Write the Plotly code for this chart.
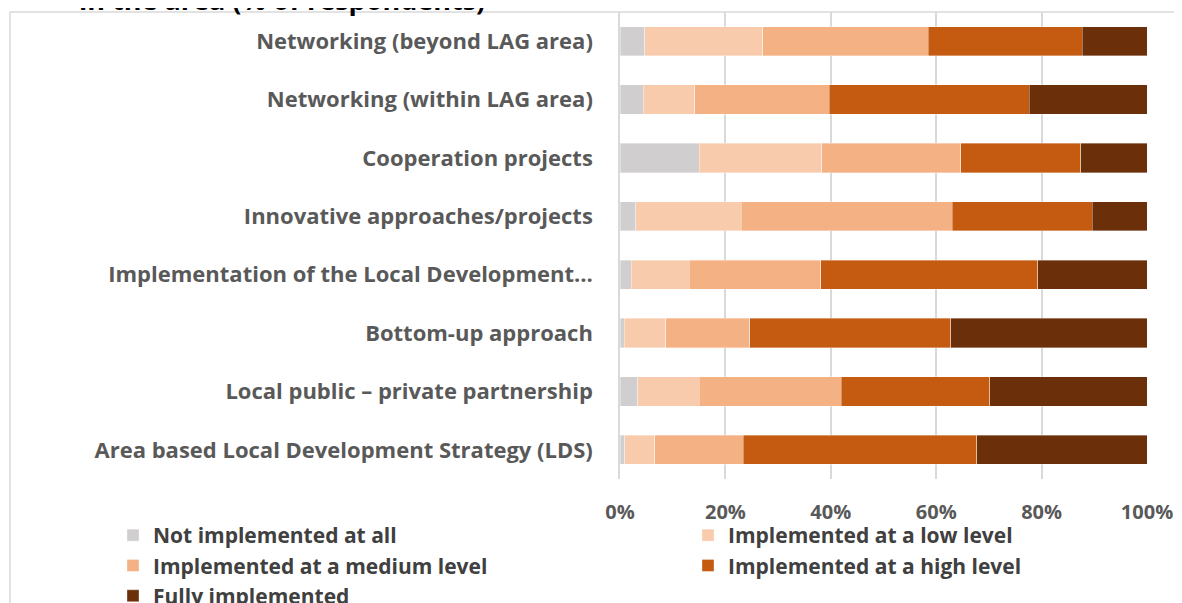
import plotly.graph_objects as go

# the page puts the figure 8px in from the top-left corner
W, H = 1174, 595
FONT = "Open Sans"

# categories, bottom to top as drawn
categories = [
    "Area based Local Development Strategy (LDS)",
    "Local public – private partnership",
    "Bottom-up approach",
    "Implementation of the Local Development…",
    "Innovative approaches/projects",
    "Cooperation projects",
    "Networking (within LAG area)",
    "Networking (beyond LAG area)",
]

series_names = [
    "Not implemented at all",
    "Implemented at a low level",
    "Implemented at a medium level",
    "Implemented at a high level",
    "Fully implemented",
]

not_at_all = [0.9, 3.4, 0.8, 2.1, 3.0, 15.0, 4.4, 4.7]
low_level = [5.7, 11.6, 7.9, 11.0, 20.0, 23.3, 9.8, 22.4]
medium_level = [16.8, 27.0, 15.9, 25.0, 40.0, 26.4, 25.5, 31.4]
high_level = [44.3, 28.2, 38.2, 41.2, 26.6, 22.7, 38.0, 29.2]
fully = [32.3, 29.8, 37.3, 20.7, 10.4, 12.6, 22.3, 12.3]

colors = ["#D0CECE", "#F8CBAD", "#F4B183", "#C55A11", "#6B300A"]
# left legend column / right legend column
legend_of = ["legend", "legend2", "legend", "legend2", "legend"]

fig = go.Figure()
for name, vals, col, lg in zip(series_names,
                               [not_at_all, low_level, medium_level, high_level, fully],
                               colors, legend_of):
    fig.add_trace(go.Bar(
        y=categories, x=[v / 100 for v in vals], name=name, orientation="h",
        marker=dict(color=col, line=dict(color="rgba(255,255,255,0.6)", width=0.6)),
        legend=lg,
    ))

# plot area in figure pixels
L, R, T, B = 612, 1139, 4, 471
PW, PH = R - L, B - T

legend_font = dict(size=21, family=FONT, color="#404040", weight="bold")
leg_top = 507

fig.update_layout(
    width=W, height=H,
    barmode="stack", bargap=0.5,
    plot_bgcolor="white", paper_bgcolor="white",
    margin=dict(l=L, r=W - R, t=T, b=H - B, autoexpand=False),
    font=dict(family=FONT, color="#595959"),
    xaxis=dict(
        range=[0, 1], tickvals=[0, 0.2, 0.4, 0.6, 0.8, 1.0], tickformat=".0%",
        showgrid=True, gridcolor="#D9D9D9", gridwidth=1.5, zeroline=False,
        showline=False, ticks="outside", ticklen=0, ticklabelstandoff=15,
        tickfont=dict(size=20, family=FONT, color="#595959", weight="bold"),
    ),
    yaxis=dict(
        showgrid=False, showline=True, linecolor="#D9D9D9", linewidth=1.5,
        ticks="", ticklabelstandoff=21,
        tickfont=dict(size=22, family=FONT, color="#595959", weight="bold"),
    ),
    legend=dict(
        orientation="v", x=(105 - L) / PW, xanchor="left",
        y=-(leg_top - B) / PH, yanchor="top", traceorder="normal",
        font=legend_font, bgcolor="rgba(0,0,0,0)",
    ),
    legend2=dict(
        orientation="v", x=(680 - L) / PW, xanchor="left",
        y=-(leg_top - B) / PH, yanchor="top", traceorder="normal",
        font=legend_font, bgcolor="rgba(0,0,0,0)",
    ),
    shapes=[dict(
        type="rect", xref="paper", yref="paper", layer="below",
        x0=(2 - L) / PW, x1=(1190 - L) / PW,
        y0=-1.5, y1=1.0,
        line=dict(color="#D9D9D9", width=1.5), fillcolor="rgba(0,0,0,0)",
    )],
    annotations=[dict(
        text="<b>in the area (% of respondents)</b>", xref="paper", yref="paper",
        x=(479 - L) / PW, xanchor="right", y=1 + (T - 12) / PH, yanchor="bottom",
        showarrow=False, font=dict(size=27, family=FONT, color="#000000"),
    )],
)

fig.write_html("out.html")
